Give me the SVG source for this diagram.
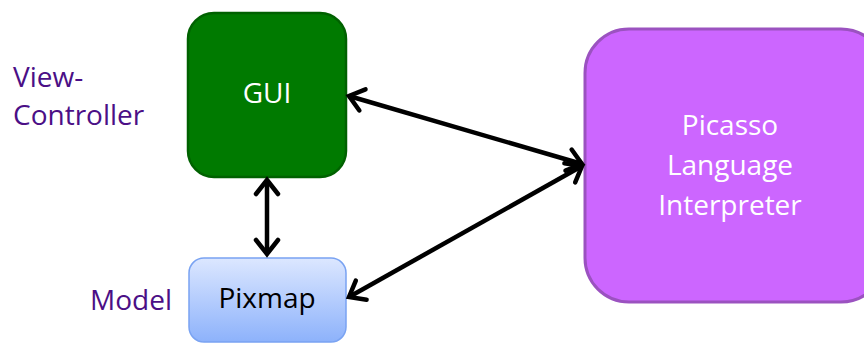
<svg xmlns="http://www.w3.org/2000/svg" width="864" height="343" viewBox="0 0 864 343">
  <defs>
    <linearGradient id="pixGrad" x1="0" y1="0" x2="0" y2="1">
      <stop offset="0" stop-color="#dce7ff"/>
      <stop offset="1" stop-color="#8db2fb"/>
    </linearGradient>
    <marker id="head" markerUnits="userSpaceOnUse" viewBox="-20 -14 24 28" refX="0" refY="0" markerWidth="24" markerHeight="28" orient="auto-start-reverse">
      <path d="M-14 -11 L0 0 L-14 11" fill="none" stroke="#000" stroke-width="4.5" stroke-linecap="round" stroke-linejoin="miter"/>
    </marker>
    <style>
      .lbl { font-family: "Open Sans", "Noto Sans", "Liberation Sans", sans-serif; font-size: 28px; }
      .side { fill: #4b0f86; }
      .conn { stroke: #000; stroke-width: 4.5; fill: none; marker-start: url(#head); marker-end: url(#head); }
    </style>
  </defs>

  <!-- layer labels -->
  <g id="labels" class="lbl side">
    <text x="13" y="87">View-</text>
    <text x="13" y="125">Controller</text>
    <text x="172" y="310" text-anchor="end">Model</text>
  </g>

  <g id="gui">
    <rect x="188" y="13" width="158" height="164" rx="26" fill="#007a00" stroke="#006100" stroke-width="2.5"/>
    <text class="lbl" x="267" y="103" fill="#fff" text-anchor="middle">GUI</text>
  </g>

  <g id="pixmap">
    <rect x="189" y="258" width="157" height="84" rx="15" fill="url(#pixGrad)" stroke="#7aa3f2" stroke-width="1.5"/>
    <text class="lbl" x="267" y="308" fill="#000" text-anchor="middle">Pixmap</text>
  </g>

  <g id="interpreter">
    <rect x="585" y="29" width="300" height="273" rx="44" fill="#cc66ff" stroke="#9b52c0" stroke-width="3"/>
    <g class="lbl" fill="#fff" text-anchor="middle">
      <text x="730" y="135">Picasso</text>
      <text x="730" y="175">Language</text>
      <text x="730" y="215">Interpreter</text>
    </g>
  </g>

  <g id="connectors">
    <line class="conn" x1="267" y1="180" x2="267" y2="254"/>
    <line class="conn" x1="349" y1="96" x2="582" y2="164"/>
    <line class="conn" x1="349" y1="297" x2="582" y2="166"/>
  </g>
</svg>
